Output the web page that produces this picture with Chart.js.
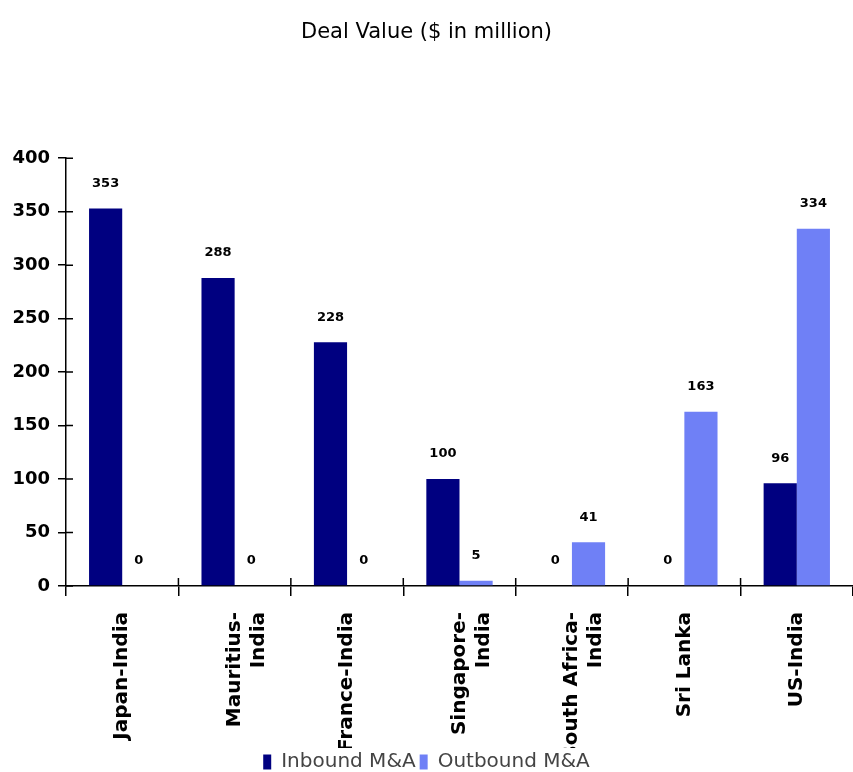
<!DOCTYPE html>
<html>
<head>
<meta charset="utf-8">
<script src="https://cdn.jsdelivr.net/npm/chart.js@4.4.0/dist/chart.umd.min.js"></script>
<style>
  html, body { margin: 0; padding: 0; background: #ffffff; }
  #wrap { width: 853px; height: 772px; }
</style>
</head>
<body>
<div id="wrap"><canvas id="dealChart" width="853" height="772"></canvas></div>
<script>
// ---- data ----
const corridors = [
    "Japan-India",
    ["Mauritius-", "India"],
    "France-India",
    ["Singapore-", "India"],
    ["South Africa-", "India"],
    "Sri Lanka",
    "US-India",
];
const inboundValues = [353, 288, 228, 100, 0, 0, 96];
const outboundValues = [0, 0, 0, 5, 41, 163, 334];
const yTicks = [0, 50, 100, 150, 200, 250, 300, 350, 400];

// value printed above every bar (zeros too, like the original)
const barValues = {
    id: "barValues",
    afterDatasetsDraw(chart) {
        const ctx = chart.ctx;
        ctx.save();
        ctx.font = "bold 13px 'DejaVu Sans'";
        ctx.fillStyle = "#000000";
        ctx.textAlign = "center";
        ctx.textBaseline = "middle";
        chart.data.datasets.forEach((ds, i) => {
            chart.getDatasetMeta(i).data.forEach((bar, j) => {
                ctx.fillText(String(ds.data[j]), bar.x, bar.y - 25);
            });
        });
        ctx.restore();
    },
};

// tick marks that cross the axis lines
const axisMarks = {
    id: "axisMarks",
    afterDraw(chart) {
        const ctx = chart.ctx;
        const xs = chart.scales.x;
        const ys = chart.scales.y;
        ctx.save();
        ctx.strokeStyle = "#000000";
        ctx.lineWidth = 1.5;
        ctx.beginPath();
        yTicks.forEach((v) => {
            const py = ys.getPixelForValue(v);
            ctx.moveTo(ys.right, py);
            ctx.lineTo(ys.right + 7, py);
        });
        for (let i = 1; i < corridors.length; i++) {
            const px = (xs.getPixelForValue(i - 1) + xs.getPixelForValue(i)) / 2;
            ctx.moveTo(px, xs.top);
            ctx.lineTo(px, xs.top - 8);
        }
        ctx.stroke();
        ctx.restore();
    },
};

// the original cuts long category labels off at the bottom
const clipXLabels = {
    id: "clipXLabels",
    beforeDraw(chart) {
        const sx = chart.scales.x;
        if (sx._clipped) return;
        const orig = sx.drawLabels.bind(sx);
        sx.drawLabels = function (area) {
            const ctx = chart.ctx;
            ctx.save();
            ctx.beginPath();
            ctx.rect(sx.left - 40, sx.top, sx.width + 80, 165);
            ctx.clip();
            orig(area);
            ctx.restore();
        };
        sx._clipped = true;
    },
};

new Chart(document.getElementById("dealChart"), {
    type: "bar",
    data: {
        labels: corridors,
        datasets: [
            {
                label: "Inbound M&A",
                data: inboundValues,
                backgroundColor: "#000080",
                categoryPercentage: 0.59,
                barPercentage: 1.0,
            },
            {
                label: "Outbound M&A",
                data: outboundValues,
                backgroundColor: "#6f80f6",
                categoryPercentage: 0.59,
                barPercentage: 1.0,
            },
        ],
    },
    options: {
        responsive: false,
        animation: false,
        layout: { padding: { left: 0, right: 0, top: 0, bottom: -10 } },
        plugins: {
            title: {
                display: true,
                text: "Deal Value ($ in million)",
                color: "#000000",
                font: { family: "'DejaVu Sans'", size: 21, weight: "normal" },
                padding: { top: 20, bottom: 113 },
            },
            legend: {
                position: "bottom",
                labels: {
                    boxWidth: 8,
                    boxHeight: 15,
                    color: "#444444",
                    padding: 4,
                    font: { family: "'DejaVu Sans'", size: 20 },
                },
            },
            tooltip: { enabled: false },
        },
        scales: {
            x: {
                grid: {
                    display: true,
                    drawOnChartArea: false,
                    offset: true,
                    tickLength: 10,
                    color: "#000000",
                    lineWidth: 1.5,
                },
                border: { color: "#000000", width: 1.5 },
                ticks: {
                    minRotation: 90,
                    maxRotation: 90,
                    autoSkip: false,
                    padding: 16,
                    color: "#000000",
                    font: { family: "'DejaVu Sans'", size: 20, weight: "bold" },
                },
                afterFit(scale) {
                    scale.height = 162;
                },
            },
            y: {
                min: 0,
                max: 400,
                ticks: {
                    stepSize: 50,
                    padding: 8,
                    color: "#000000",
                    font: { family: "'DejaVu Sans'", size: 18, weight: "bold" },
                },
                grid: {
                    drawOnChartArea: false,
                    tickLength: 8,
                    color: "#000000",
                    lineWidth: 1.5,
                },
                border: { color: "#000000", width: 1.5 },
                afterFit(scale) {
                    scale.width = 66;
                },
            },
        },
    },
    plugins: [barValues, axisMarks, clipXLabels],
});
</script>
</body>
</html>
